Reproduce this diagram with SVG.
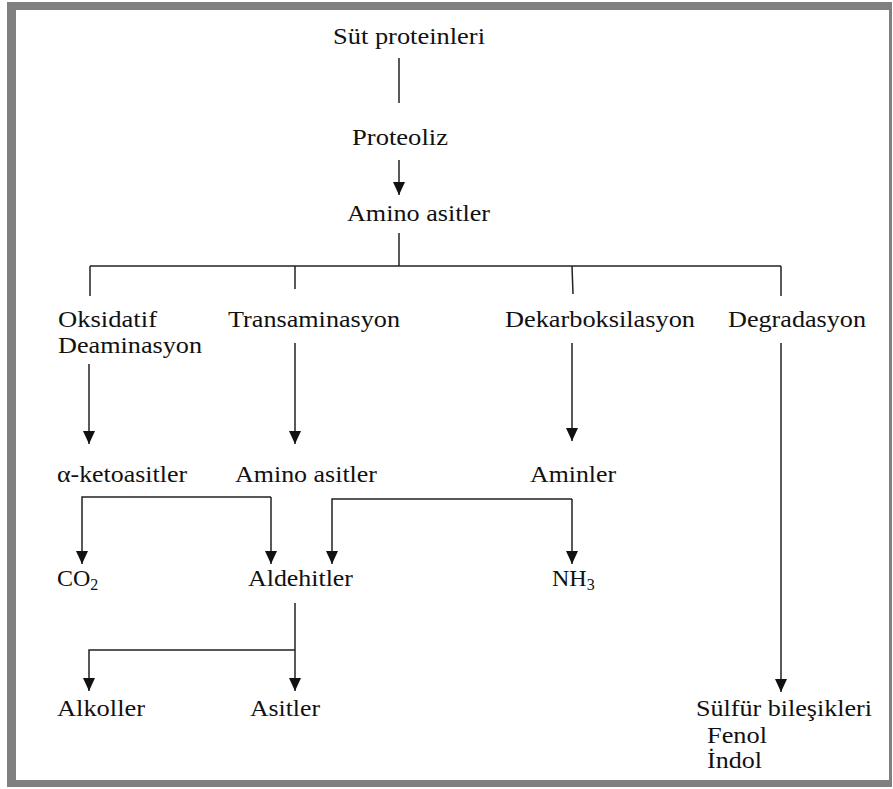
<svg xmlns="http://www.w3.org/2000/svg" width="893" height="789" viewBox="0 0 893 789">
<style>
.c{fill:none;stroke:#222;stroke-width:1.5;}
.t{font-size:24px;fill:#111;}
</style>
<defs>
<marker id="ah" markerUnits="userSpaceOnUse" markerWidth="14" markerHeight="12" refX="13" refY="6" orient="auto">
<path d="M0,0 L13,6 L0,12 z" fill="#111"/>
</marker>
</defs>
<rect x="0" y="0" width="893" height="789" fill="#ffffff"/>
<rect x="7" y="2" width="885" height="785" fill="#808080"/>
<rect x="16" y="10" width="873" height="770" fill="#ffffff"/>
<g id="connectors">
<path class="c" d="M399,58 V103"/>
<path class="c" d="M399,160 V195" marker-end="url(#ah)"/>
<path class="c" d="M399,233 V266"/>
<path class="c" d="M90,266 H781"/>
<path class="c" d="M90,266 V296"/>
<path class="c" d="M295,266 V289"/>
<path class="c" d="M572,266 L573,294"/>
<path class="c" d="M781,266 V296"/>
<path class="c" d="M89,364 V444" marker-end="url(#ah)"/>
<path class="c" d="M295,343 V444" marker-end="url(#ah)"/>
<path class="c" d="M572,343 V441" marker-end="url(#ah)"/>
<path class="c" d="M781,343 V692" marker-end="url(#ah)"/>
<path class="c" d="M271,497 H82 V564" marker-end="url(#ah)"/>
<path class="c" d="M271,497 V564" marker-end="url(#ah)"/>
<path class="c" d="M572,499 H332 V564" marker-end="url(#ah)"/>
<path class="c" d="M572,499 V564" marker-end="url(#ah)"/>
<path class="c" d="M295,603 V691" marker-end="url(#ah)"/>
<path class="c" d="M295,650 H89 V691" marker-end="url(#ah)"/>
</g>
<g font-family="Liberation Serif, serif" class="t">
<g id="n-sut"><text x="333" y="44" textLength="152" lengthAdjust="spacingAndGlyphs">Süt proteinleri</text></g>
<g id="n-proteoliz"><text x="352" y="145" textLength="96" lengthAdjust="spacingAndGlyphs">Proteoliz</text></g>
<g id="n-amino1"><text x="347" y="221" textLength="143" lengthAdjust="spacingAndGlyphs">Amino asitler</text></g>
<g id="n-oksidatif"><text x="58" y="327" textLength="99" lengthAdjust="spacingAndGlyphs">Oksidatif</text><text x="58" y="353" textLength="144" lengthAdjust="spacingAndGlyphs">Deaminasyon</text></g>
<g id="n-trans"><text x="228" y="327" textLength="172" lengthAdjust="spacingAndGlyphs">Transaminasyon</text></g>
<g id="n-dekarb"><text x="505" y="327" textLength="190" lengthAdjust="spacingAndGlyphs">Dekarboksilasyon</text></g>
<g id="n-degr"><text x="728" y="327" textLength="138" lengthAdjust="spacingAndGlyphs">Degradasyon</text></g>
<g id="n-keto"><text x="57" y="482" textLength="130" lengthAdjust="spacingAndGlyphs">α-ketoasitler</text></g>
<g id="n-amino2"><text x="235" y="482" textLength="142" lengthAdjust="spacingAndGlyphs">Amino asitler</text></g>
<g id="n-aminler"><text x="530" y="482" textLength="86" lengthAdjust="spacingAndGlyphs">Aminler</text></g>
<g id="n-co2"><text x="57" y="586">CO<tspan dy="4" font-size="16">2</tspan></text></g>
<g id="n-aldehit"><text x="248" y="586" textLength="105" lengthAdjust="spacingAndGlyphs">Aldehitler</text></g>
<g id="n-nh3"><text x="552" y="586">NH<tspan dy="4" font-size="16">3</tspan></text></g>
<g id="n-alkol"><text x="57" y="716" textLength="88" lengthAdjust="spacingAndGlyphs">Alkoller</text></g>
<g id="n-asit"><text x="250" y="716" textLength="70" lengthAdjust="spacingAndGlyphs">Asitler</text></g>
<g id="n-sulfur"><text x="696" y="716" textLength="176" lengthAdjust="spacingAndGlyphs">Sülfür bileşikleri</text><text x="707" y="743" textLength="60" lengthAdjust="spacingAndGlyphs">Fenol</text><text x="707" y="768" textLength="55" lengthAdjust="spacingAndGlyphs">İndol</text></g>
</g>
</svg>
